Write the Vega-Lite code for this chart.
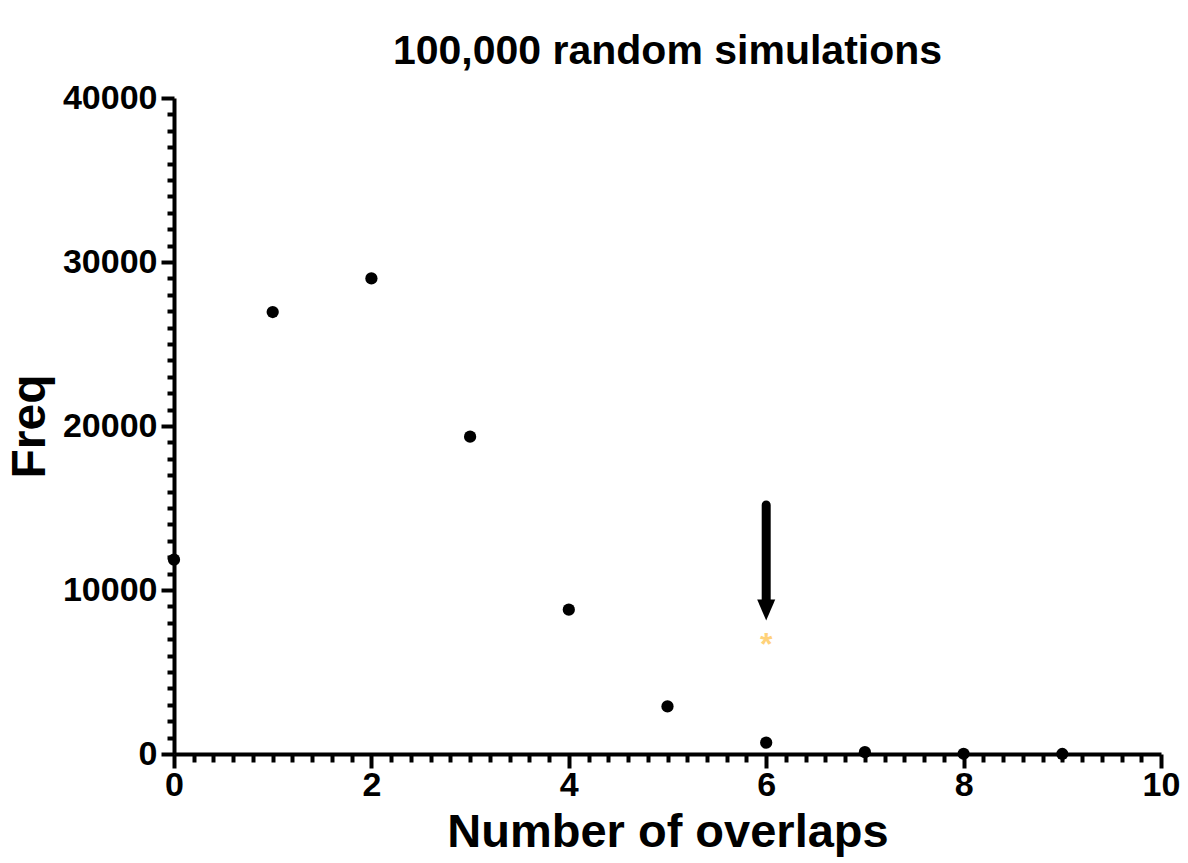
{
  "$schema": "https://vega.github.io/schema/vega-lite/v6.json",
  "autosize": "none",
  "width": 987,
  "height": 656,
  "padding": {"left": 174, "top": 98, "right": 27, "bottom": 109},
  "background": "white",
  "config": {
    "view": {"stroke": null},
    "font": "Liberation Sans",
    "axis": {
      "domainColor": "black",
      "domainWidth": 4,
      "tickColor": "black",
      "tickWidth": 4,
      "labelColor": "black",
      "labelFont": "Liberation Sans",
      "labelFontWeight": "bold",
      "labelFontSize": 34,
      "titleFont": "Liberation Sans",
      "titleFontWeight": "bold",
      "titleFontSize": 48,
      "titleColor": "black",
      "grid": false
    }
  },
  "title": {
    "text": "100,000 random simulations",
    "fontSize": 41,
    "fontWeight": "bold",
    "font": "Liberation Sans",
    "color": "black",
    "anchor": "middle",
    "baseline": "alphabetic",
    "offset": -24
  },
  "datasets": {
    "points": [
      {"overlaps": 0, "freq": 11850},
      {"overlaps": 1, "freq": 26950},
      {"overlaps": 2, "freq": 29000},
      {"overlaps": 3, "freq": 19350},
      {"overlaps": 4, "freq": 8800},
      {"overlaps": 5, "freq": 2900},
      {"overlaps": 6, "freq": 690},
      {"overlaps": 7, "freq": 110},
      {"overlaps": 8, "freq": 15},
      {"overlaps": 9, "freq": 2}
    ],
    "arrow": [{"overlaps": 6, "from": 15180, "to": 9400, "tip": 8780}],
    "marker": [{"overlaps": 6, "value": 7130, "label": "*"}]
  },
  "resolve": {"axis": {"x": "independent", "y": "independent"}},
  "layer": [
    {
      "data": {"name": "points"},
      "mark": {"type": "point", "filled": true, "shape": "circle", "size": 150, "color": "black", "opacity": 1, "clip": false},
      "encoding": {
        "x": {
          "field": "overlaps", "type": "quantitative",
          "scale": {"domain": [0, 10], "nice": false, "zero": false},
          "axis": {"orient": "bottom", "values": [0, 2, 4, 6, 8, 10], "tickSize": 14, "labelPadding": 0, "title": "Number of overlaps", "titleFontSize": 47, "titlePadding": 7, "labelFlush": false}
        },
        "y": {
          "field": "freq", "type": "quantitative",
          "scale": {"domain": [0, 40000], "nice": false},
          "axis": {"orient": "left", "values": [0, 10000, 20000, 30000, 40000], "format": "d", "tickSize": 13, "labelPadding": 4, "title": "Freq", "titlePadding": 8, "labelFlush": false}
        }
      }
    },
    {
      "data": {"name": "arrow"},
      "mark": {"type": "rule", "color": "black", "strokeWidth": 9, "strokeCap": "round"},
      "encoding": {
        "x": {
          "field": "overlaps", "type": "quantitative",
          "axis": {"orient": "bottom", "values": [0.2,0.4,0.6,0.8,1,1.2,1.4,1.6,1.8,2.2,2.4,2.6,2.8,3,3.2,3.4,3.6,3.8,4.2,4.4,4.6,4.8,5,5.2,5.4,5.6,5.8,6.2,6.4,6.6,6.8,7,7.2,7.4,7.6,7.8,8.2,8.4,8.6,8.8,9,9.2,9.4,9.6,9.8], "tickSize": 8, "tickWidth": 4, "labels": false, "domain": false, "title": null}
        },
        "y": {
          "field": "from", "type": "quantitative",
          "axis": {"orient": "left", "values": [1000,2000,3000,4000,5000,6000,7000,8000,9000,11000,12000,13000,14000,15000,16000,17000,18000,19000,21000,22000,23000,24000,25000,26000,27000,28000,29000,31000,32000,33000,34000,35000,36000,37000,38000,39000], "tickSize": 7, "tickWidth": 4, "labels": false, "domain": false, "title": null}
        },
        "y2": {"field": "to"}
      }
    },
    {
      "data": {"name": "arrow"},
      "mark": {"type": "point", "filled": true, "shape": "M-0.86,-1L0.86,-1L0,1Z", "size": 441, "color": "black", "opacity": 1},
      "encoding": {
        "x": {"field": "overlaps", "type": "quantitative", "axis": null},
        "y": {"field": "tip", "type": "quantitative", "axis": null}
      }
    },
    {
      "data": {"name": "marker"},
      "mark": {"type": "text", "color": "#FFD27A", "fontSize": 32, "fontWeight": "bold", "font": "Liberation Sans", "baseline": "alphabetic", "align": "center", "dy": 18},
      "encoding": {
        "x": {"field": "overlaps", "type": "quantitative", "axis": null},
        "y": {"field": "value", "type": "quantitative", "axis": null},
        "text": {"field": "label"}
      }
    }
  ]
}
